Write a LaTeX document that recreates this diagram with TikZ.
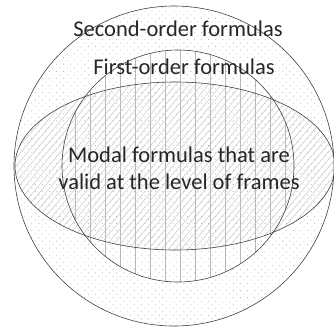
\documentclass[tikz,border=0pt]{standalone}
\usepackage{fontspec}
\setmainfont{Carlito}
\usetikzlibrary{patterns.meta}
\tikzset{
  setline/.style={draw=black!75, line width=0.6pt},
  lbl/.style={font=\fontsize{22.5}{27}\selectfont, text=black!85, inner sep=0pt, align=center},
}
\begin{document}
\begin{tikzpicture}[x=1pt,y=-1pt]
\useasboundingbox (0,0) rectangle (334,333);
\path[pattern={Dots[radius=0.6pt,distance=5pt,angle=45]}, pattern color=black!25] (174,166) circle (160);
\path[pattern={Lines[angle=90,distance=15pt,line width=0.5pt]}, pattern color=black!28] (178,166) circle (116);
\path[pattern={Lines[angle=50,distance=5pt,line width=0.5pt]}, pattern color=black!22] (175,166) ellipse [x radius=160, y radius=84];
\draw[setline] (174,166) circle (160);
\draw[setline] (178,166) circle (116);
\draw[setline] (175,166) ellipse [x radius=160, y radius=84];
\node[lbl] (second) at (178,29) {Second-order formulas};
\node[lbl] (first) at (184,67) {First-order formulas};
\node[lbl] (modal) at (179,168) {Modal formulas that are\\valid at the level of frames};
\end{tikzpicture}
\end{document}
